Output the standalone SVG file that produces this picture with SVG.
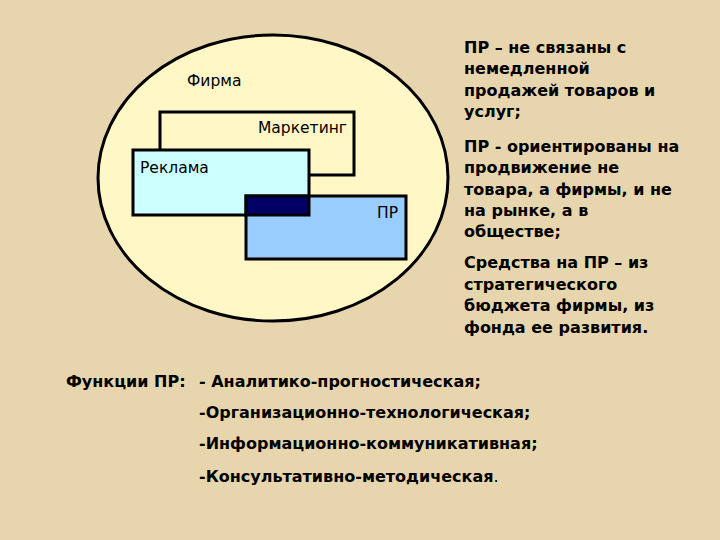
<svg xmlns="http://www.w3.org/2000/svg" width="720" height="540" viewBox="0 0 720 540">
<style>
.t{font-family:"DejaVu Sans",Verdana,sans-serif;font-size:16px;font-weight:bold;fill:#000}
.n{font-family:"DejaVu Sans",Tahoma,sans-serif;font-size:15.5px;fill:#000}
.b{stroke:#000;stroke-width:3}
</style>
<rect width="720" height="540" fill="#e6d5ad"/>
<g id="firma"><ellipse cx="273" cy="178" rx="175" ry="143" fill="#fff7c6" stroke="#000" stroke-width="3"/>
<text class="n" x="187" y="86">Фирма</text></g>
<g id="marketing"><rect class="b" x="160" y="112" width="194" height="63" fill="#fff7c6"/>
<text class="n" x="258" y="133">Маркетинг</text></g>
<g id="reklama"><rect class="b" x="133" y="150" width="176" height="65" fill="#ccffff"/>
<text class="n" x="140" y="173">Реклама</text></g>
<g id="pr"><rect class="b" x="246" y="196" width="160" height="63" fill="#99ccff"/>
<rect x="246" y="196" width="63" height="19" fill="#000066" stroke="#000" stroke-width="3"/>
<text class="n" x="377" y="218">ПР</text></g>
<g id="connectors"/>
<g id="text">
<text class="t"><tspan x="464" y="53">ПР – не связаны с</tspan><tspan x="464" y="74">немедленной</tspan><tspan x="464" y="96">продажей товаров и</tspan><tspan x="464" y="117">услуг;</tspan></text>
<text class="t"><tspan x="464" y="152">ПР - ориентированы на</tspan><tspan x="464" y="173">продвижение не</tspan><tspan x="464" y="195">товара, а фирмы, и не</tspan><tspan x="464" y="216">на рынке, а в</tspan><tspan x="464" y="237">обществе;</tspan></text>
<text class="t"><tspan x="464" y="268">Средства на ПР – из</tspan><tspan x="464" y="290">стратегического</tspan><tspan x="464" y="311">бюджета фирмы, из</tspan><tspan x="464" y="333">фонда ее развития.</tspan></text>
<text class="t" x="66" y="387">Функции ПР:</text>
<text class="t" x="199" y="387">- Аналитико-прогностическая;</text>
<text class="t" x="199" y="418">-Организационно-технологическая;</text>
<text class="t" x="199" y="449">-Информационно-коммуникативная;</text>
<text class="t" x="199" y="482">-Консультативно-методическая<tspan font-weight="normal">.</tspan></text>
</g>
</svg>
